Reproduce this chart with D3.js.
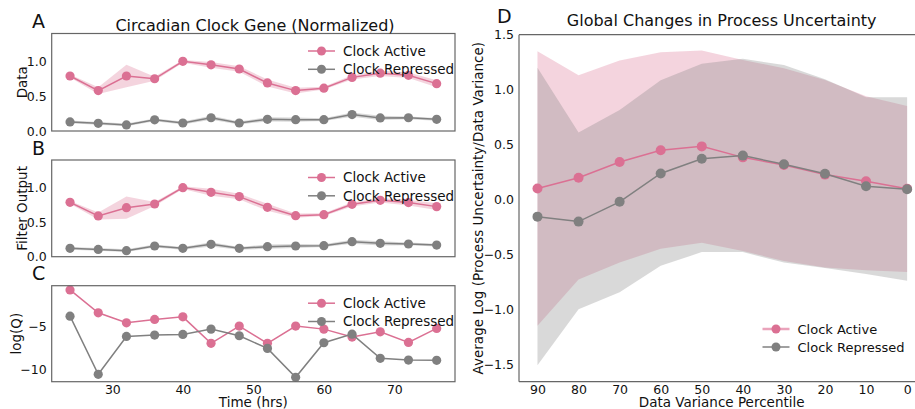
<!DOCTYPE html>
<html>
<head>
<meta charset="utf-8">
<script src="https://cdn.jsdelivr.net/npm/d3@7"></script>
<style>
  body { margin: 0; background: #fff; }
  svg { display: block; font-family: "DejaVu Sans", sans-serif; }
</style>
</head>
<body>
<div id="chart"></div>
<script>
// Sampling times (hrs)
const hours = [24, 28, 32, 36, 40, 44, 48, 52, 56, 60, 64, 68, 72, 76];

// Panel A: normalized data, mean and band half-width
const dataActive = [0.79, 0.58, 0.79, 0.75, 1.0, 0.95, 0.89, 0.69, 0.58, 0.615, 0.77, 0.83, 0.80, 0.68];
const dataActiveSd = [0.02, 0.05, 0.16, 0.03, 0.02, 0.04, 0.04, 0.05, 0.04, 0.02, 0.03, 0.04, 0.04, 0.05];
const dataRepr = [0.13, 0.11, 0.087, 0.16, 0.115, 0.19, 0.115, 0.168, 0.163, 0.163, 0.236, 0.188, 0.19, 0.168];
const dataReprSd = [0.02, 0.02, 0.02, 0.02, 0.02, 0.03, 0.02, 0.03, 0.03, 0.02, 0.03, 0.03, 0.02, 0.02];

// Panel B: filter output
const filtActive = [0.787, 0.59, 0.71, 0.763, 1.0, 0.932, 0.87, 0.715, 0.594, 0.609, 0.758, 0.816, 0.783, 0.725];
const filtActiveSd = [0.02, 0.05, 0.16, 0.03, 0.02, 0.05, 0.04, 0.05, 0.03, 0.02, 0.03, 0.03, 0.04, 0.05];
const filtRepr = [0.121, 0.106, 0.087, 0.155, 0.121, 0.179, 0.121, 0.145, 0.155, 0.159, 0.217, 0.193, 0.184, 0.169];
const filtReprSd = [0.02, 0.02, 0.02, 0.02, 0.02, 0.03, 0.02, 0.03, 0.03, 0.02, 0.03, 0.03, 0.02, 0.02];

// Panel C: log(Q)
const logQActive = [-0.73, -3.38, -4.54, -4.15, -3.85, -6.92, -4.92, -6.92, -4.92, -5.27, -6.19, -5.58, -6.81, -5.19];
const logQRepr = [-3.77, -10.5, -6.12, -5.96, -5.88, -5.27, -6.04, -7.5, -10.85, -6.85, -5.85, -8.65, -8.85, -8.88];

// Panel D: process uncertainty vs data variance percentile
const percentiles = [90, 80, 70, 60, 50, 40, 30, 20, 10, 0];
const pActive = [0.10, 0.197, 0.34, 0.447, 0.483, 0.383, 0.314, 0.226, 0.166, 0.097];
const pActiveHi = [1.35, 1.13, 1.265, 1.34, 1.356, 1.27, 1.195, 1.087, 0.94, 0.85];
const pActiveLo = [-1.15, -0.73, -0.575, -0.45, -0.395, -0.47, -0.56, -0.62, -0.645, -0.66];
const pRepr = [-0.157, -0.202, -0.022, 0.236, 0.371, 0.399, 0.32, 0.233, 0.12, 0.093];
const pReprHi = [1.2, 0.61, 0.815, 1.085, 1.235, 1.28, 1.225, 1.095, 0.93, 0.93];
const pReprLo = [-1.51, -1.0, -0.845, -0.605, -0.48, -0.48, -0.575, -0.625, -0.68, -0.74];

const seriesNames = ["Clock Active", "Clock Repressed"];
const pink = "#db7093";
const grey = "#808080";
const spine = "#666";

const W = 915, H = 409;
const svg = d3.select("#chart").append("svg")
    .attr("width", W)
    .attr("height", H);

const x = d3.scaleLinear().domain([21.4, 78.6]).range([51.7, 455]);

function drawLegend(g, lx, y0, dy, fs, pinkLine) {
    [pink, grey].forEach((c, i) => {
        const yy = y0 + i * dy;
        const lc = (i === 0 && pinkLine) ? pinkLine : c;
        g.append("line")
            .attr("x1", lx).attr("x2", lx + 27)
            .attr("y1", yy).attr("y2", yy)
            .attr("stroke", lc).attr("stroke-width", (i === 0 && pinkLine) ? 2.5 : 1.5);
        g.append("circle")
            .attr("cx", lx + 13.5).attr("cy", yy).attr("r", 4.5)
            .attr("fill", c);
        g.append("text")
            .attr("x", lx + 35).attr("y", yy + fs * 0.36)
            .attr("font-size", fs)
            .attr("fill", "#111")
            .text(seriesNames[i]);
    });
}

function drawSeries(g, xs, ys, sd, xScale, yScale, color, r) {
    if (sd) {
        const area = d3.area()
            .x((d, i) => xScale(xs[i]))
            .y0((d, i) => yScale(ys[i] - sd[i]))
            .y1((d, i) => yScale(ys[i] + sd[i]));
        g.append("path")
            .attr("d", area(ys))
            .attr("fill", color)
            .attr("fill-opacity", 0.3);
    }
    const line = d3.line()
        .x((d, i) => xScale(xs[i]))
        .y(d => yScale(d));
    g.append("path")
        .attr("d", line(ys))
        .attr("fill", "none")
        .attr("stroke", color)
        .attr("stroke-width", 1.5);
    g.selectAll(null)
        .data(ys)
        .join("circle")
        .attr("cx", (d, i) => xScale(xs[i]))
        .attr("cy", d => yScale(d))
        .attr("r", r)
        .attr("fill", color);
}

function styleAxis(sel) {
    sel.select(".domain").remove();
    sel.selectAll(".tick line").remove();
    sel.selectAll(".tick text")
        .attr("font-size", 12.5)
        .attr("fill", "#111")
        .attr("font-family", "DejaVu Sans, sans-serif");
}

const minusFmt = f => d => f(d).replace("-", "\u2212");

// Panels A-C
const panels = [
    { top: 33.5, bottom: 131, domain: [0, 1.4], ticks: [0, 0.5, 1.0], fmt: d3.format(".1f"),
      series: [[dataActive, dataActiveSd], [dataRepr, dataReprSd]], label: "Data", letter: "A", letterY: 28 },
    { top: 160, bottom: 256.7, domain: [0, 1.4], ticks: [0, 0.5, 1.0], fmt: d3.format(".1f"),
      series: [[filtActive, filtActiveSd], [filtRepr, filtReprSd]], label: "Filter Output", letter: "B", letterY: 155 },
    { top: 285.7, bottom: 381.7, domain: [-11.36, -0.24], ticks: [-10, -5], fmt: minusFmt(d3.format("d")),
      series: [[logQActive, null], [logQRepr, null]], label: "log(Q)", letter: "C", letterY: 280 }
];

panels.forEach((p, pi) => {
    const y = d3.scaleLinear().domain(p.domain).range([p.bottom, p.top]);
    const g = svg.append("g");
    drawSeries(g, hours, p.series[0][0], p.series[0][1], x, y, pink, 4.6);
    drawSeries(g, hours, p.series[1][0], p.series[1][1], x, y, grey, 4.6);

    g.append("rect")
        .attr("x", x.range()[0]).attr("y", p.top)
        .attr("width", x.range()[1] - x.range()[0])
        .attr("height", p.bottom - p.top)
        .attr("fill", "none").attr("stroke", spine).attr("stroke-width", 1.2);

    const ya = g.append("g")
        .attr("transform", `translate(${x.range()[0] - 2},0)`)
        .call(d3.axisLeft(y).tickValues(p.ticks).tickFormat(p.fmt).tickSize(0));
    styleAxis(ya);

    g.append("text")
        .attr("transform", `translate(${pi === 2 ? 20.5 : 26.5},${(p.top + p.bottom) / 2}) rotate(-90)`)
        .attr("text-anchor", "middle")
        .attr("font-size", 13.5)
        .attr("fill", "#111")
        .text(p.label);

    g.append("text")
        .attr("x", 32).attr("y", p.letterY)
        .attr("font-size", 19)
        .attr("fill", "#111")
        .text(p.letter);

    drawLegend(g, 308, p.top + 17.5, 18.3, 13.5);

    if (pi === 2) {
        const xa = g.append("g")
            .attr("transform", `translate(0,${p.bottom})`)
            .call(d3.axisBottom(x).tickValues([30, 40, 50, 60, 70]).tickSize(0));
        styleAxis(xa);
        g.append("text")
            .attr("x", (x.range()[0] + x.range()[1]) / 2).attr("y", 407)
            .attr("text-anchor", "middle")
            .attr("font-size", 13.5)
            .attr("fill", "#111")
            .text("Time (hrs)");
    }
});

svg.append("text")
    .attr("x", 255).attr("y", 31)
    .attr("text-anchor", "middle")
    .attr("font-size", 16)
    .attr("fill", "#111")
    .text("Circadian Clock Gene (Normalized)");

// Panel D
const xd = d3.scaleLinear().domain([94.5, -4.5]).range([519, 925.6]);
const yd = d3.scaleLinear().domain([-1.66, 1.5]).range([381.7, 34.7]);
const gd = svg.append("g");

[[pActiveLo, pActiveHi, pink], [pReprLo, pReprHi, grey]].forEach(([lo, hi, c]) => {
    const area = d3.area()
        .x((d, i) => xd(percentiles[i]))
        .y0((d, i) => yd(lo[i]))
        .y1((d, i) => yd(hi[i]));
    gd.append("path")
        .attr("d", area(lo))
        .attr("fill", c)
        .attr("fill-opacity", 0.3);
});
drawSeries(gd, percentiles, pActive, null, xd, yd, pink, 5);
drawSeries(gd, percentiles, pRepr, null, xd, yd, grey, 5);

gd.append("line")
    .attr("x1", 519).attr("x2", 519).attr("y1", 34.7).attr("y2", 381.7)
    .attr("stroke", spine).attr("stroke-width", 1.2);
gd.append("line")
    .attr("x1", 519).attr("x2", W).attr("y1", 381.7).attr("y2", 381.7)
    .attr("stroke", spine).attr("stroke-width", 1.2);
gd.append("line")
    .attr("x1", 519).attr("x2", W).attr("y1", 34.7).attr("y2", 34.7)
    .attr("stroke", spine).attr("stroke-width", 1.2);

const yda = gd.append("g")
    .attr("transform", "translate(517,0)")
    .call(d3.axisLeft(yd).tickValues([-1.5, -1.0, -0.5, 0, 0.5, 1.0, 1.5])
        .tickFormat(minusFmt(d3.format(".1f"))).tickSize(0));
styleAxis(yda);

const xda = gd.append("g")
    .attr("transform", "translate(0,381.7)")
    .call(d3.axisBottom(xd).tickValues(percentiles).tickSize(0));
styleAxis(xda);

gd.append("text")
    .attr("transform", `translate(483,${(34.7 + 381.7) / 2}) rotate(-90)`)
    .attr("text-anchor", "middle")
    .attr("font-size", 13.5)
    .attr("fill", "#111")
    .text("Average Log (Process Uncertainty/Data Variance)");

gd.append("text")
    .attr("x", 721.7).attr("y", 407)
    .attr("text-anchor", "middle")
    .attr("font-size", 13.5)
    .attr("fill", "#111")
    .text("Data Variance Percentile");

gd.append("text")
    .attr("x", 721.7).attr("y", 26)
    .attr("text-anchor", "middle")
    .attr("font-size", 16)
    .attr("fill", "#111")
    .text("Global Changes in Process Uncertainty");

gd.append("text")
    .attr("x", 497).attr("y", 23)
    .attr("font-size", 19)
    .attr("fill", "#111")
    .text("D");

drawLegend(gd, 762.5, 329, 18, 13, "#eaa3bb");
</script>
</body>
</html>
